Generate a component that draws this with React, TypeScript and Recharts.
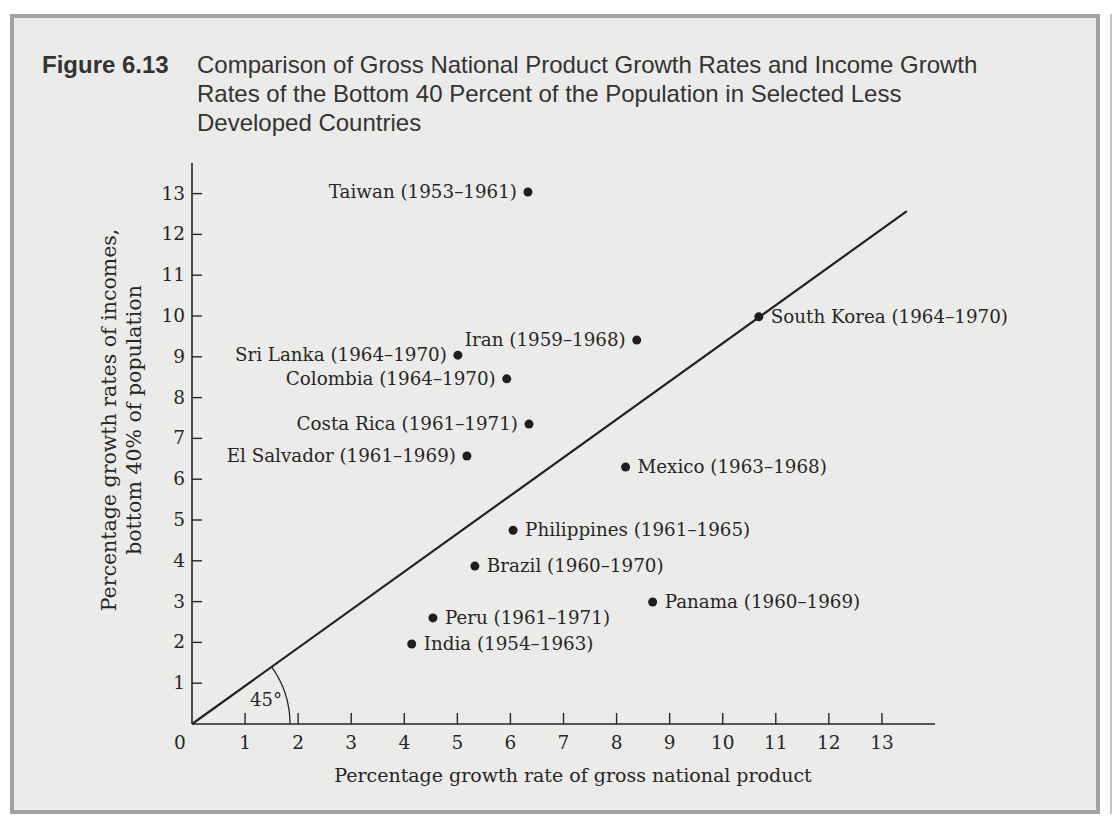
import {
  ScatterChart,
  Scatter,
  XAxis,
  YAxis,
  ReferenceLine,
  ReferenceDot,
} from 'recharts'

// country labels, GNP growth (x) and bottom-40% income growth (y)
const countries = [
  'Taiwan (1953–1961)',
  'South Korea (1964–1970)',
  'Iran (1959–1968)',
  'Sri Lanka (1964–1970)',
  'Colombia (1964–1970)',
  'Costa Rica (1961–1971)',
  'El Salvador (1961–1969)',
  'Mexico (1963–1968)',
  'Philippines (1961–1965)',
  'Brazil (1960–1970)',
  'Panama (1960–1969)',
  'Peru (1961–1971)',
  'India (1954–1963)',
]
const gnpGrowth = [6.33, 10.68, 8.38, 5.01, 5.93, 6.35, 5.18, 8.17, 6.05, 5.33, 8.68, 4.54, 4.14]
const incomeGrowth = [13.04, 9.98, 9.41, 9.04, 8.46, 7.35, 6.57, 6.3, 4.75, 3.87, 2.99, 2.6, 1.96]

const xTicks = [0, 1, 2, 3, 4, 5, 6, 7, 8, 9, 10, 11, 12, 13]
const yTicks = [1, 2, 3, 4, 5, 6, 7, 8, 9, 10, 11, 12, 13]

// the so-called 45 degree line, as drawn in the book
const diagonal = [
  { x: 0, y: 0 },
  { x: 13.47, y: 12.57 },
]

const data = countries.map((name, i) => ({
  name,
  x: gnpGrowth[i],
  y: incomeGrowth[i],
}))

const W = 1118
const H = 820
const PLOT_LEFT = 192
const PLOT_TOP = 163
const PLOT_RIGHT = 935
const PLOT_BOTTOM = 724
const X_MAX = 14
const Y_MAX = 13.75
const PX_X = (PLOT_RIGHT - PLOT_LEFT) / X_MAX
const PX_Y = (PLOT_BOTTOM - PLOT_TOP) / Y_MAX

const SERIF = '"DejaVu Serif", serif'
const SANS = '"Liberation Sans", Arial, sans-serif'
const INK = '#262626'
const slope = diagonal[1].y / diagonal[1].x

function YTick({ y, payload }: any) {
  return (
    <g>
      <line x1={PLOT_LEFT} x2={PLOT_LEFT + 10} y1={y} y2={y} stroke={INK} strokeWidth={1.4} />
      <text x={PLOT_LEFT - 7} y={y} dy={6} textAnchor="end" fontFamily={SERIF} fontSize={18.5} fill={INK}>
        {payload.value}
      </text>
    </g>
  )
}

function XTick({ x, payload }: any) {
  const zero = payload.value === 0
  return (
    <g>
      {!zero && (
        <line x1={x} x2={x} y1={PLOT_BOTTOM} y2={PLOT_BOTTOM - 11} stroke={INK} strokeWidth={1.4} />
      )}
      <text x={zero ? x - 12 : x} y={PLOT_BOTTOM + 25} textAnchor="middle" fontFamily={SERIF} fontSize={18.5} fill={INK}>
        {payload.value}
      </text>
    </g>
  )
}

function CountryDot({ cx, cy, payload }: any) {
  const left = payload.y > payload.x * slope + 0.2
  return (
    <g>
      <circle cx={cx} cy={cy} r={4.5} fill="#1e1e1e" />
      <text
        x={left ? cx - 11 : cx + 12}
        y={cy}
        dy={6}
        textAnchor={left ? 'end' : 'start'}
        fontFamily={SERIF}
        fontSize={18.3}
        fill={INK}
      >
        {payload.name}
      </text>
    </g>
  )
}

function AngleMark({ cx, cy }: any) {
  const r = 98
  const a = Math.atan2(diagonal[1].y * PX_Y, diagonal[1].x * PX_X)
  const ex = cx + r * Math.cos(a)
  const ey = cy - r * Math.sin(a)
  return (
    <g>
      <path d={`M ${cx + r} ${cy} A ${r} ${r} 0 0 0 ${ex} ${ey}`} fill="none" stroke={INK} strokeWidth={1.3} />
      <text x={cx + 74} y={cy - 18} textAnchor="middle" fontFamily={SERIF} fontSize={18} fill={INK}>
        45°
      </text>
    </g>
  )
}

function YLabel() {
  const cy = 420
  return (
    <g fontFamily={SERIF} fontSize={20.5} fill={INK} textAnchor="middle">
      <text x={116} y={cy} transform={`rotate(-90 116 ${cy})`}>
        Percentage growth rates of incomes,
      </text>
      <text x={141} y={cy} transform={`rotate(-90 141 ${cy})`}>
        bottom 40% of population
      </text>
    </g>
  )
}

function XLabel() {
  return (
    <text x={573} y={782} textAnchor="middle" fontFamily={SERIF} fontSize={19} fill={INK}>
      Percentage growth rate of gross national product
    </text>
  )
}

export default function App() {
  return (
    <div
      style={{
        position: 'fixed',
        left: 0,
        top: 0,
        width: W,
        height: H,
        background: '#ffffff',
        overflow: 'hidden',
      }}
    >
      <div
        style={{
          position: 'absolute',
          left: 10,
          top: 14,
          width: 1090,
          height: 800,
          boxSizing: 'border-box',
          border: '4px solid #a2a2a0',
          background: '#ebebe9',
        }}
      />
      <div style={{ position: 'absolute', left: 1110, top: 14, width: 2, height: 800, background: '#c4c4c2' }} />
      <div
        style={{
          position: 'absolute',
          left: 42,
          top: 50,
          fontFamily: SANS,
          fontSize: 24,
          fontWeight: 700,
          color: '#333',
          lineHeight: '29px',
        }}
      >
        Figure 6.13
      </div>
      <div
        style={{
          position: 'absolute',
          left: 197,
          top: 50,
          width: 860,
          fontFamily: SANS,
          fontSize: 24,
          color: '#333',
          lineHeight: '29px',
        }}
      >
        Comparison of Gross National Product Growth Rates and Income Growth
        <br />
        Rates of the Bottom 40 Percent of the Population in Selected Less
        <br />
        Developed Countries
      </div>
      <div style={{ position: 'absolute', left: 0, top: 0 }}>
        <ScatterChart
          width={W}
          height={H}
          margin={{ top: PLOT_TOP, right: W - PLOT_RIGHT, bottom: H - PLOT_BOTTOM - 60, left: PLOT_LEFT - 60 }}
        >
          <XAxis
            type="number"
            dataKey="x"
            domain={[0, X_MAX]}
            ticks={xTicks}
            interval={0}
            height={60}
            tickLine={false}
            tickSize={0}
            axisLine={{ stroke: INK, strokeWidth: 1.6 }}
            tick={<XTick />}
            label={<XLabel />}
          />
          <YAxis
            type="number"
            dataKey="y"
            domain={[0, Y_MAX]}
            ticks={yTicks}
            interval={0}
            width={60}
            tickLine={false}
            tickSize={0}
            axisLine={{ stroke: INK, strokeWidth: 1.6 }}
            tick={<YTick />}
            label={<YLabel />}
          />
          <ReferenceLine
            segment={diagonal}
            stroke="#222"
            strokeWidth={2.2}
          />
          <ReferenceDot x={0} y={0} r={0} shape={<AngleMark />} />
          <Scatter data={data} isAnimationActive={false} shape={<CountryDot />} />
        </ScatterChart>
      </div>
    </div>
  )
}
